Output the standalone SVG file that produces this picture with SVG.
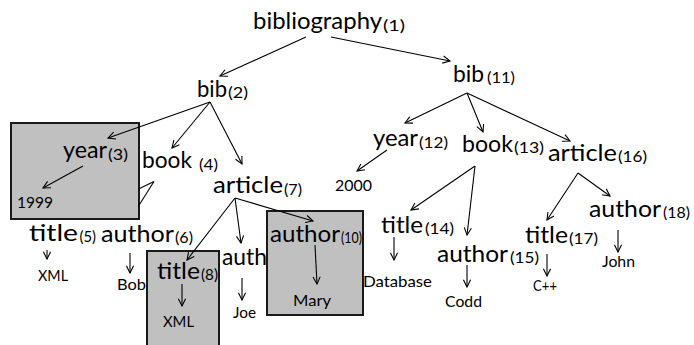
<svg xmlns="http://www.w3.org/2000/svg" width="694" height="345" viewBox="0 0 694 345">
  <style>
    text { font-family: Lato, "Open Sans", "Liberation Sans", sans-serif; fill: #000; }
    .n { font-size: 24px; }
    .s { font-size: 15.5px; }
    .v { font-size: 15px; }
    .hl { fill: #c0c0c0; stroke: #1a1a1a; stroke-width: 2; }
    .e { stroke: #000; stroke-width: 1.1; fill: none; marker-end: url(#arr); }
    .p { stroke: #000; stroke-width: 1.1; fill: none; }
  </style>
  <defs>
    <marker id="arr" viewBox="0 0 10 10" refX="9" refY="5" markerWidth="9" markerHeight="9" markerUnits="userSpaceOnUse" orient="auto">
      <path d="M1,1 L9,5 L1,9" fill="none" stroke="#000" stroke-width="1.2"/>
    </marker>
  </defs>
  <rect width="694" height="345" fill="#fff"/>

  <!-- highlighted subtrees -->
  <g id="highlights">
    <rect class="hl" x="11" y="123" width="128" height="96"/>
    <rect class="hl" x="147" y="251" width="72" height="100"/>
    <rect class="hl" x="267" y="211" width="96" height="104"/>
  </g>

  <!-- edges -->
  <g id="connectors">
    <line class="e" x1="306" y1="37" x2="220" y2="76"/>
    <line class="e" x1="331" y1="37" x2="450" y2="61"/>
    <line class="e" x1="210" y1="102" x2="108" y2="138"/>
    <line class="e" x1="210" y1="102" x2="172" y2="148"/>
    <line class="e" x1="210" y1="102" x2="242" y2="164"/>
    <line class="e" x1="83" y1="166" x2="43" y2="188"/>
    <line class="p" x1="154" y1="181.5" x2="138.5" y2="189"/>
    <line class="p" x1="154" y1="181.5" x2="138.5" y2="206"/>
    <line class="e" x1="47" y1="250" x2="47" y2="259"/>
    <line class="e" x1="130" y1="253" x2="130" y2="273"/>
    <line class="e" x1="235" y1="198" x2="187" y2="260"/>
    <line class="e" x1="235" y1="198" x2="241" y2="243"/>
    <line class="e" x1="235" y1="198" x2="313" y2="221"/>
    <line class="e" x1="182" y1="284" x2="182" y2="306"/>
    <line class="e" x1="242" y1="278" x2="242" y2="300"/>
    <line class="e" x1="315" y1="245" x2="317" y2="284"/>
    <line class="e" x1="467" y1="93" x2="405" y2="123"/>
    <line class="e" x1="467" y1="93" x2="483" y2="132"/>
    <line class="e" x1="467" y1="93" x2="570" y2="141"/>
    <line class="e" x1="387" y1="150" x2="357" y2="171"/>
    <line class="e" x1="475" y1="166" x2="411" y2="210"/>
    <line class="e" x1="475" y1="166" x2="467" y2="235"/>
    <line class="e" x1="578" y1="173" x2="610" y2="196"/>
    <line class="e" x1="578" y1="173" x2="547" y2="220"/>
    <line class="e" x1="394" y1="237" x2="394" y2="260"/>
    <line class="e" x1="467" y1="265" x2="467" y2="287"/>
    <line class="e" x1="547" y1="254" x2="547" y2="276"/>
    <line class="e" x1="618" y1="230" x2="618" y2="252"/>
  </g>

  <!-- element nodes -->
  <g id="bibliography1">
    <text class="n" x="253" y="28.5" textLength="129" lengthAdjust="spacingAndGlyphs">bibliography</text>
    <text class="s" x="383" y="31" textLength="22" lengthAdjust="spacingAndGlyphs">(1)</text>
  </g>
  <g id="bib2">
    <text class="n" x="197" y="96.5" textLength="30" lengthAdjust="spacingAndGlyphs">bib</text>
    <text class="s" x="228" y="97.5" textLength="20" lengthAdjust="spacingAndGlyphs">(2)</text>
  </g>
  <g id="year3">
    <text class="n" x="63" y="158" textLength="44" lengthAdjust="spacingAndGlyphs">year</text>
    <text class="s" x="108" y="160" textLength="20" lengthAdjust="spacingAndGlyphs">(3)</text>
  </g>
  <g id="book4">
    <text class="n" x="142" y="168" textLength="50" lengthAdjust="spacingAndGlyphs">book</text>
    <text class="s" x="199" y="170" textLength="19" lengthAdjust="spacingAndGlyphs">(4)</text>
  </g>
  <g id="title5">
    <text class="n" x="29" y="241" textLength="49" lengthAdjust="spacingAndGlyphs">title</text>
    <text class="s" x="79.5" y="242" textLength="16.5" lengthAdjust="spacingAndGlyphs">(5)</text>
  </g>
  <g id="author6">
    <text class="n" x="101" y="242" textLength="73" lengthAdjust="spacingAndGlyphs">author</text>
    <text class="s" x="175" y="243" textLength="18" lengthAdjust="spacingAndGlyphs">(6)</text>
  </g>
  <g id="article7">
    <text class="n" x="213" y="193" textLength="70" lengthAdjust="spacingAndGlyphs">article</text>
    <text class="s" x="284" y="195" textLength="18" lengthAdjust="spacingAndGlyphs">(7)</text>
  </g>
  <g id="title8">
    <text class="n" x="157" y="279" textLength="43" lengthAdjust="spacingAndGlyphs">title</text>
    <text class="s" x="201" y="280" textLength="17" lengthAdjust="spacingAndGlyphs">(8)</text>
  </g>
  <g id="author9">
    <text class="n" x="222" y="265" textLength="45" lengthAdjust="spacingAndGlyphs">auth</text>
  </g>
  <g id="author10">
    <text class="n" x="270" y="242" textLength="70" lengthAdjust="spacingAndGlyphs">author</text>
    <text class="s" x="341" y="243" textLength="21" lengthAdjust="spacingAndGlyphs">(10)</text>
  </g>
  <g id="bib11">
    <text class="n" x="453" y="82" textLength="31" lengthAdjust="spacingAndGlyphs">bib</text>
    <text class="s" x="487" y="83" textLength="28" lengthAdjust="spacingAndGlyphs">(11)</text>
  </g>
  <g id="year12">
    <text class="n" x="373" y="146" textLength="45" lengthAdjust="spacingAndGlyphs">year</text>
    <text class="s" x="419" y="148" textLength="29" lengthAdjust="spacingAndGlyphs">(12)</text>
  </g>
  <g id="book13">
    <text class="n" x="462" y="152" textLength="51" lengthAdjust="spacingAndGlyphs">book</text>
    <text class="s" x="514" y="153" textLength="30" lengthAdjust="spacingAndGlyphs">(13)</text>
  </g>
  <g id="title14">
    <text class="n" x="381" y="233" textLength="42" lengthAdjust="spacingAndGlyphs">title</text>
    <text class="s" x="425" y="234" textLength="29" lengthAdjust="spacingAndGlyphs">(14)</text>
  </g>
  <g id="author15">
    <text class="n" x="437" y="262" textLength="71" lengthAdjust="spacingAndGlyphs">author</text>
    <text class="s" x="510" y="263" textLength="29" lengthAdjust="spacingAndGlyphs">(15)</text>
  </g>
  <g id="article16">
    <text class="n" x="548" y="161" textLength="69" lengthAdjust="spacingAndGlyphs">article</text>
    <text class="s" x="618" y="162" textLength="29" lengthAdjust="spacingAndGlyphs">(16)</text>
  </g>
  <g id="title17">
    <text class="n" x="525" y="243" textLength="43" lengthAdjust="spacingAndGlyphs">title</text>
    <text class="s" x="569" y="244" textLength="29" lengthAdjust="spacingAndGlyphs">(17)</text>
  </g>
  <g id="author18">
    <text class="n" x="589" y="217" textLength="72" lengthAdjust="spacingAndGlyphs">author</text>
    <text class="s" x="663" y="218" textLength="27" lengthAdjust="spacingAndGlyphs">(18)</text>
  </g>

  <!-- text values -->
  <g id="values">
    <text class="v" x="17" y="208" textLength="36" lengthAdjust="spacingAndGlyphs">1999</text>
    <text class="v" x="38" y="281" textLength="30" lengthAdjust="spacingAndGlyphs">XML</text>
    <text class="v" x="117" y="290" textLength="29" lengthAdjust="spacingAndGlyphs">Bob</text>
    <text class="v" x="163" y="327" textLength="31" lengthAdjust="spacingAndGlyphs">XML</text>
    <text class="v" x="233" y="318" textLength="23" lengthAdjust="spacingAndGlyphs">Joe</text>
    <text class="v" x="293" y="306" textLength="38" lengthAdjust="spacingAndGlyphs">Mary</text>
    <text class="v" x="335" y="191" textLength="37" lengthAdjust="spacingAndGlyphs">2000</text>
    <text class="v" x="363" y="287" textLength="69" lengthAdjust="spacingAndGlyphs">Database</text>
    <text class="v" x="445" y="307" textLength="37" lengthAdjust="spacingAndGlyphs">Codd</text>
    <text class="v" x="533" y="291" textLength="24" lengthAdjust="spacingAndGlyphs">C++</text>
    <text class="v" x="602" y="267" textLength="33" lengthAdjust="spacingAndGlyphs">John</text>
  </g>
</svg>
